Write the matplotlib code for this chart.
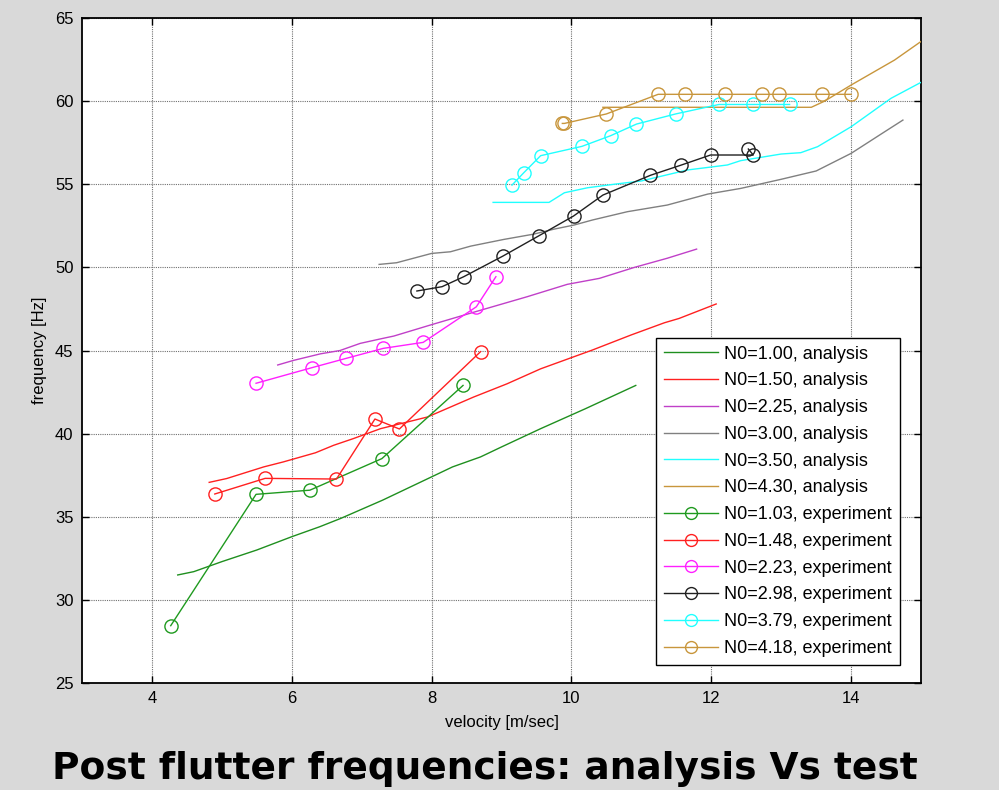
import matplotlib
matplotlib.use("Agg")
import matplotlib.pyplot as plt
from matplotlib import font_manager

# ---------------- data ----------------
# analysis curves
v_a100 = [4.37, 4.6, 5.0, 5.5, 6.0, 6.4, 6.7, 7.3, 8.0, 8.3, 8.7, 9.0, 9.56, 10.2, 10.92]
f_a100 = [31.5, 31.7, 32.3, 33.0, 33.8, 34.4, 34.9, 36.0, 37.4, 38.0, 38.6, 39.2, 40.3, 41.5, 42.9]

v_a150 = [4.82, 5.07, 5.6, 5.88, 6.34, 6.6, 6.88, 7.27, 7.94, 8.6, 9.08, 9.56, 10.3, 10.85, 11.33, 11.54, 12.07]
f_a150 = [37.07, 37.3, 38.0, 38.3, 38.85, 39.3, 39.7, 40.3, 41.0, 42.2, 43.0, 43.9, 45.03, 45.93, 46.67, 46.93, 47.8]

v_a225 = [5.8, 6.02, 6.41, 6.69, 6.98, 7.27, 7.46, 7.98, 8.6, 9.37, 9.94, 10.4, 10.9, 11.37, 11.79]
f_a225 = [44.13, 44.4, 44.8, 45.0, 45.43, 45.7, 45.87, 46.53, 47.3, 48.24, 48.98, 49.34, 50.0, 50.55, 51.1]

v_a300 = [7.25, 7.5, 8.0, 8.27, 8.56, 9.03, 9.46, 9.75, 10.04, 10.3, 10.8, 11.37, 11.95, 12.42, 13.0, 13.5, 14.0, 14.48, 14.74]
f_a300 = [50.18, 50.28, 50.84, 50.94, 51.28, 51.68, 52.0, 52.3, 52.55, 52.85, 53.35, 53.75, 54.41, 54.75, 55.3, 55.8, 56.86, 58.16, 58.86]

v_a350 = [8.88, 9.68, 9.9, 10.23, 10.61, 11.0, 11.66, 12.23, 12.42, 13.0, 13.28, 13.52, 14.0, 14.57, 15.03]
f_a350 = [53.91, 53.91, 54.49, 54.79, 55.0, 55.2, 55.86, 56.16, 56.42, 56.82, 56.9, 57.26, 58.46, 60.17, 61.2]

v_a430 = [10.45, 13.43, 13.62, 14.0, 14.62, 15.03]
f_a430 = [59.63, 59.63, 60.0, 60.97, 62.47, 63.68]

# experiments
v_e103 = [4.27, 5.49, 6.26, 7.29, 8.45]
f_e103 = [28.45, 36.35, 36.6, 38.5, 42.9]

v_e148 = [4.9, 5.62, 6.64, 7.19, 7.54, 8.70]
f_e148 = [36.37, 37.31, 37.27, 40.88, 40.28, 44.93]

v_e223 = [5.49, 6.29, 6.78, 7.31, 7.88, 8.64, 8.92]
f_e223 = [43.03, 43.97, 44.53, 45.13, 45.49, 47.63, 49.44]

v_e298 = [7.79, 8.15, 8.46, 9.02, 9.53, 10.03, 10.45, 11.13, 11.56, 11.99, 12.6, 12.53]
f_e298 = [48.58, 48.84, 49.44, 50.68, 51.89, 53.09, 54.35, 55.54, 56.14, 56.76, 56.76, 57.12]

v_e379 = [9.15, 9.32, 9.56, 10.15, 10.56, 10.93, 11.49, 12.11, 12.6, 13.12]
f_e379 = [54.95, 55.7, 56.72, 57.28, 57.92, 58.62, 59.23, 59.8, 59.8, 59.8]

v_e418 = [9.87, 9.9, 10.5, 11.24, 11.62, 12.19, 12.72, 12.97, 13.59, 14.0]
f_e418 = [58.66, 58.66, 59.23, 60.41, 60.41, 60.41, 60.41, 60.41, 60.41, 60.41]

labels_analysis = ["N0=1.00, analysis", "N0=1.50, analysis", "N0=2.25, analysis",
                   "N0=3.00, analysis", "N0=3.50, analysis", "N0=4.30, analysis"]
labels_exp = ["N0=1.03, experiment", "N0=1.48, experiment", "N0=2.23, experiment",
              "N0=2.98, experiment", "N0=3.79, experiment", "N0=4.18, experiment"]

x_ticks = [4, 6, 8, 10, 12, 14]
y_ticks = [25, 30, 35, 40, 45, 50, 55, 60, 65]

title_text = "Post flutter frequencies: analysis Vs test"
xlabel_text = "velocity [m/sec]"
ylabel_text = "frequency [Hz]"

# ---------------- style ----------------
avail = {f.name for f in font_manager.fontManager.ttflist}
narrow = "Liberation Sans Narrow" if "Liberation Sans Narrow" in avail else "Liberation Sans"
plt.rcParams['font.family'] = ['Liberation Sans', 'DejaVu Sans']

col_a = ['#1f8f1f', '#ff2020', '#c040c8', '#808080', '#20ffff', '#c8963c']
col_e = ['#1f9a1f', '#ff2020', '#ff20ff', '#202020', '#20ffff', '#c8963c']

fig = plt.figure(figsize=(9.99, 7.90), dpi=100, facecolor='#d9d9d9')
ax = fig.add_axes([0.082, 0.1354, 0.840, 0.8418])
ax.set_facecolor('white')

analysis = [(v_a100, f_a100), (v_a150, f_a150), (v_a225, f_a225),
            (v_a300, f_a300), (v_a350, f_a350), (v_a430, f_a430)]
exps = [(v_e103, f_e103), (v_e148, f_e148), (v_e223, f_e223),
        (v_e298, f_e298), (v_e379, f_e379), (v_e418, f_e418)]

for (v, f), c, lab in zip(analysis, col_a, labels_analysis):
    ax.plot(v, f, color=c, lw=1.0, label=lab, zorder=3)
for (v, f), c, lab in zip(exps, col_e, labels_exp):
    ax.plot(v, f, color=c, lw=1.0, marker='o', ms=9.5, mfc='none', mec=c, mew=1.0,
            label=lab, zorder=4)

ax.set_xlim(3, 15)
ax.set_ylim(25, 65)
ax.set_xticks(x_ticks)
ax.set_yticks(y_ticks)
ax.grid(True, linestyle=(0, (1, 1)), color='#707070', lw=0.8)
ax.set_axisbelow(True)
ax.tick_params(direction='in', length=5, width=1.0, top=True, right=True,
               labelsize=12, pad=6)
for lbl in ax.get_xticklabels() + ax.get_yticklabels():
    lbl.set_fontfamily(narrow)
for s in ax.spines.values():
    s.set_linewidth(1.3)
    s.set_color('black')

ax.set_xlabel(xlabel_text, fontsize=12, family=narrow, labelpad=6)
ax.set_ylabel(ylabel_text, fontsize=12, family=narrow, labelpad=6)

leg = ax.legend(loc='lower right', bbox_to_anchor=(0.975, 0.027), borderaxespad=0,
                fontsize=13, frameon=True, fancybox=False, framealpha=1,
                edgecolor='black', handlelength=3.0, handletextpad=0.35,
                labelspacing=0.54, borderpad=0.45, markerscale=0.9)
leg.get_frame().set_linewidth(1.0)

fig.text(0.485, 0.014, title_text, ha='center', va='baseline', fontsize=27,
         fontweight='bold', family=['DejaVu Sans'])

fig.savefig('out.png', dpi=100, facecolor=fig.get_facecolor())
